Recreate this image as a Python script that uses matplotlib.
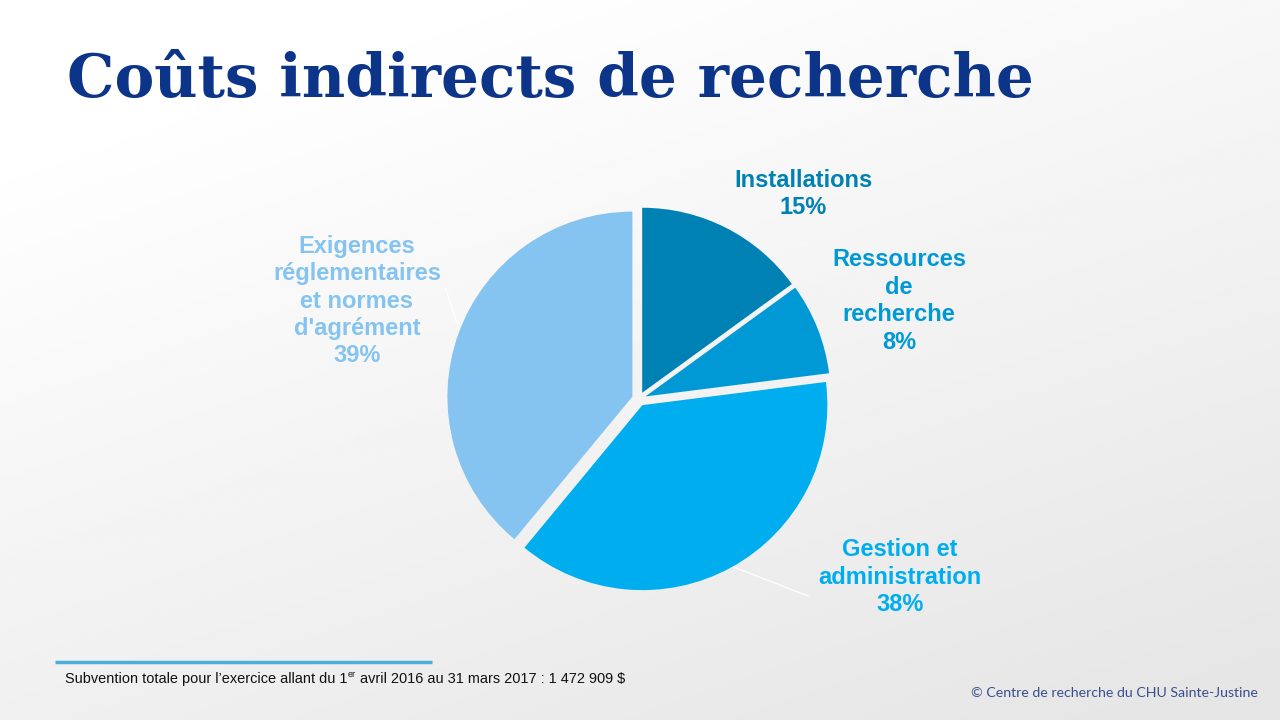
import numpy as np
import matplotlib
matplotlib.use("Agg")
import matplotlib.pyplot as plt

# données du graphique
categories = ["Installations", "Ressources\nde\nrecherche", "Gestion et\nadministration",
              "Exigences\nréglementaires\net normes\nd'agrément"]
parts = [15, 8, 38, 39]
couleurs = ["#0081B3", "#0099D6", "#00AEEF", "#85C3F0"]
titre = "Coûts indirects de recherche"
note_debut = "Subvention totale pour l’exercice allant du 1"
note_exposant = "er"
note_fin = " avril 2016 au 31 mars 2017 : 1 472 909 $"
credit = "© Centre de recherche du CHU Sainte-Justine"

W, H = 1280, 720
fig = plt.figure(figsize=(W / 100, H / 100), dpi=100)

# fond en dégradé (blanc en haut à gauche, gris clair en bas à droite)
bg = fig.add_axes([0, 0, 1, 1])
xx, yy = np.meshgrid(np.linspace(0, 1, 256), np.linspace(0, 1, 256))
t = np.clip(0.45 * xx + 0.75 * yy - 0.15, 0, 1)
gris = 1.0 - 0.1 * t
bg.imshow(gris, cmap="gray", vmin=0, vmax=1, extent=[0, W, H, 0], aspect="auto")
bg.set_xlim(0, W)
bg.set_ylim(H, 0)
bg.axis("off")

# camembert
cx, cy, half = 639, 399, 215
ax = fig.add_axes([(cx - half) / W, (H - cy - half) / H, 2 * half / W, 2 * half / H])
wedges, _ = ax.pie(parts, colors=couleurs, startangle=90, counterclock=False,
                   radius=185, explode=[7] * len(parts),
                   wedgeprops=dict(linewidth=0))
ax.set_xlim(-half, half)
ax.set_ylim(-half, half)
ax.set_aspect("equal")
ax.axis("off")

# étiquettes (position en pixels de la figure)
pos_etiquettes = [(803, 194), (899, 301), (900, 577), (357, 301)]
for nom, val, col, (px, py) in zip(categories, parts, couleurs, pos_etiquettes):
    bg.text(px, py, f"{nom}\n{val}%", ha="center", va="center", color=col,
            fontsize=17, fontweight="bold", family="Liberation Sans",
            linespacing=1.25)

# lignes de rappel
bg.plot([445, 460], [287, 332], color="white", lw=1, alpha=0.9)
bg.plot([731, 808], [566, 596], color="white", lw=1, alpha=0.9)

fig.canvas.draw()
r = fig.canvas.get_renderer()

# titre, taille ajustée à la largeur voulue
tt = bg.text(67, 97, titre, ha="left", va="baseline", color="#0C3589",
             fontsize=50, family="DejaVu Serif", fontweight="bold")
largeur = tt.get_window_extent(r).width
tt.set_fontsize(50 * 968 / largeur)

# note de bas de page
bg.plot([55, 432], [662, 662], color="#4DAED8", lw=2.5, solid_capstyle="butt")
t1 = bg.text(65, 683, note_debut, ha="left", va="baseline", fontsize=10.45,
             family="Liberation Sans", color="#111111")
x1 = bg.transData.inverted().transform(t1.get_window_extent(r))[1][0]
t2 = bg.text(x1 + 0.5, 677, note_exposant, ha="left", va="baseline", fontsize=6.5,
             family="Liberation Sans", color="#111111")
x2 = bg.transData.inverted().transform(t2.get_window_extent(r))[1][0]
bg.text(x2, 683, note_fin, ha="left", va="baseline", fontsize=10.45,
        family="Liberation Sans", color="#111111")

bg.text(1258, 697, credit, ha="right", va="baseline", fontsize=10.15,
        family="Lato", color="#3A4E8E")

fig.savefig("out.png", dpi=100)
